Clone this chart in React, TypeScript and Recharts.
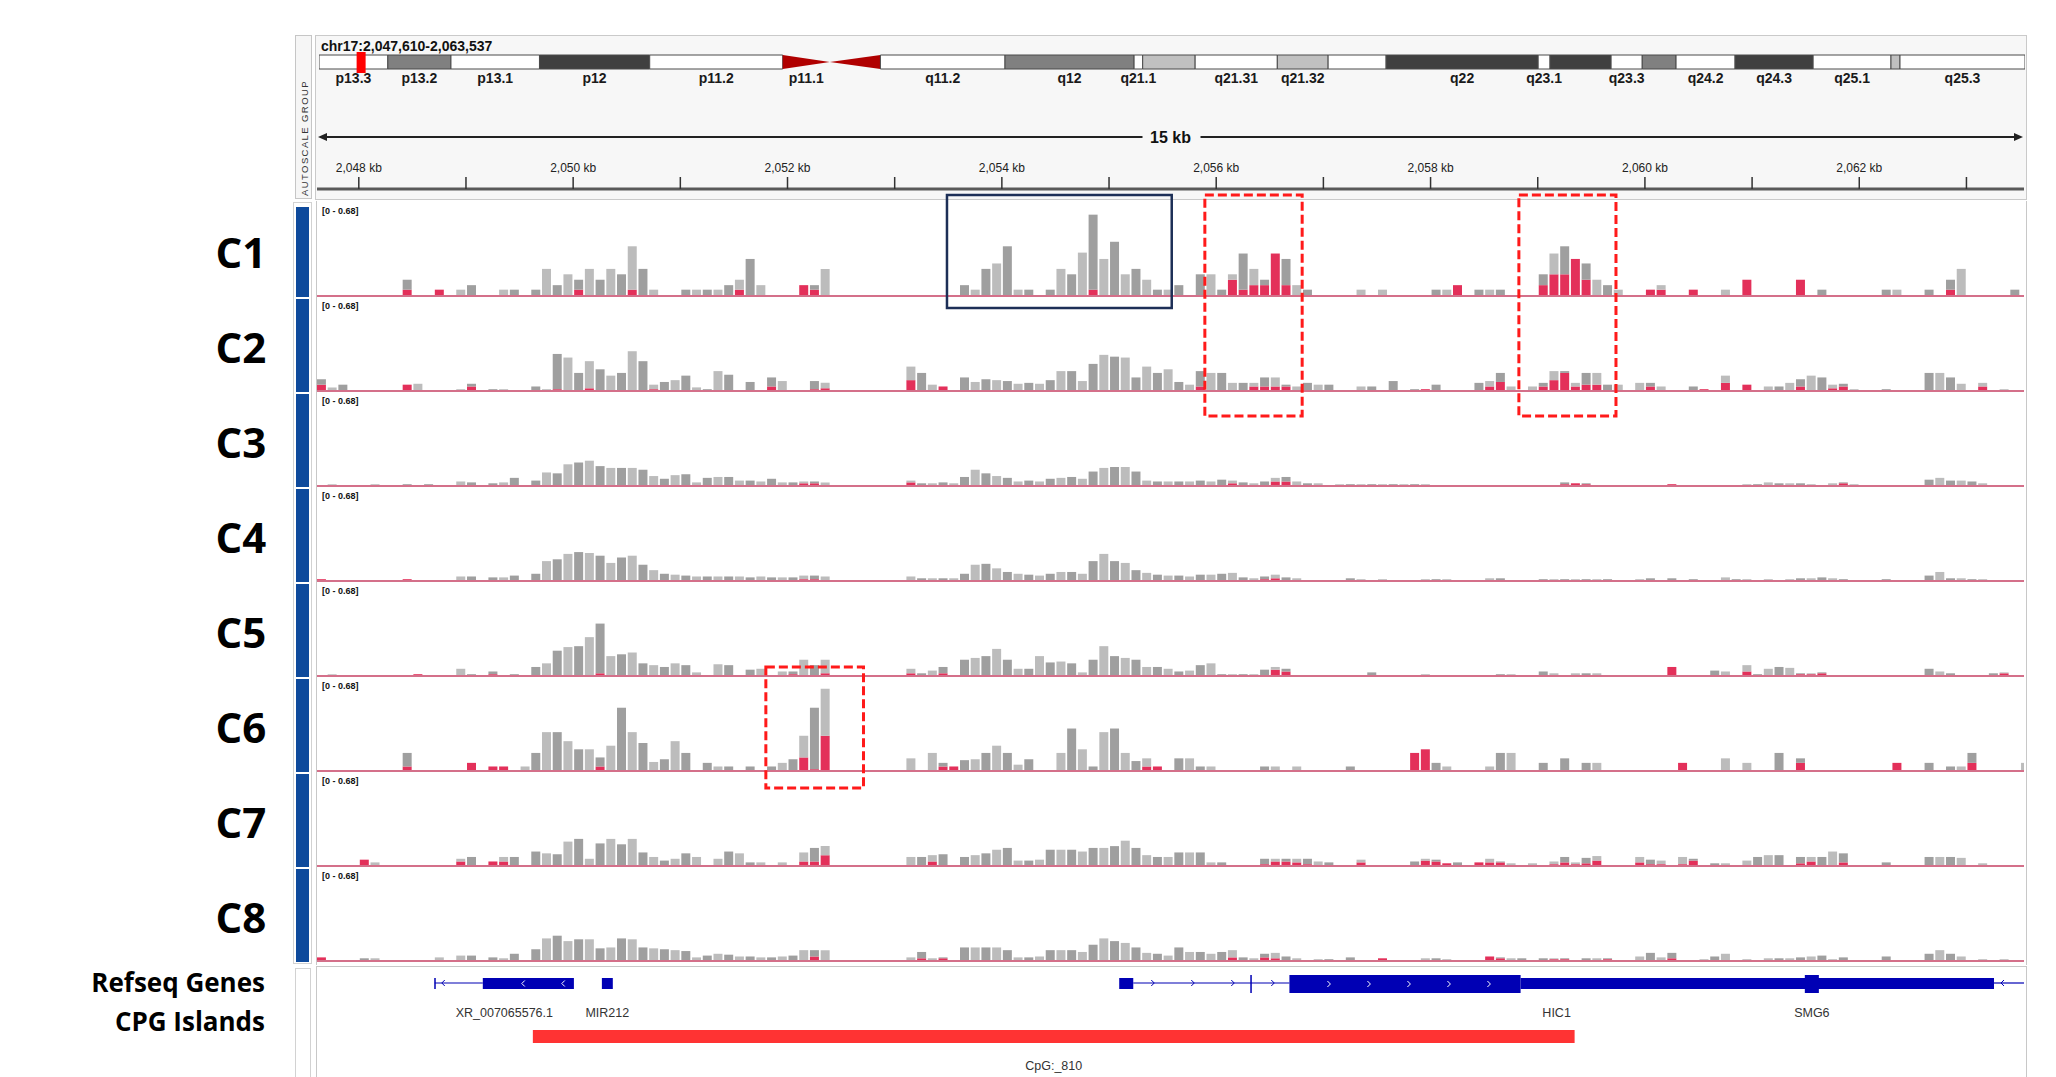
import React from "react";
import {
  BarChart,
  Bar,
  Cell,
  XAxis,
  YAxis,
  Line,
  ComposedChart,
  ReferenceLine,
  ReferenceArea,
} from "recharts";

// view window on chr17
const viewStart = 2047610;
const viewEnd = 2063537;
const locus = "chr17:2,047,610-2,063,537";
const spanLabel = "15 kb";
const rangeLabel = "[0 - 0.68]";

// coverage bins: 100 bp each starting at 2,047,600
const binStart = 2047600;
const binSize = 100;

const trackNames = ["C1", "C2", "C3", "C4", "C5", "C6", "C7", "C8"];

// bar heights, % of the track data range
const c1 = [
  0, 0, 0, 0, 0, 0, 0, 0, 18, 0, 0, 7, 0, 7, 12, 0, 0, 7, 7, 0,
  7, 30, 12, 24, 18, 30, 18, 30, 24, 55, 30, 7, 0, 0, 7, 7, 7, 7, 12, 18,
  41, 12, 0, 0, 0, 12, 12, 30, 0, 0, 0, 0, 0, 0, 0, 0, 0, 0, 0, 0,
  12, 7, 30, 36, 55, 7, 7, 0, 7, 30, 24, 48, 90, 41, 60, 24, 30, 18, 7, 7,
  12, 0, 24, 24, 7, 24, 47, 30, 18, 47, 41, 12, 7, 0, 0, 0, 0, 7, 0, 7,
  0, 0, 0, 0, 7, 7, 12, 0, 7, 7, 7, 0, 0, 0, 24, 47, 55, 41, 36, 18,
  12, 7, 0, 0, 7, 12, 0, 0, 7, 0, 0, 7, 0, 18, 0, 0, 0, 0, 18, 0,
  7, 0, 0, 0, 0, 0, 7, 7, 0, 0, 7, 0, 18, 30, 0, 0, 0, 0, 7, 0,
];
const c2 = [
  13, 4, 7, 0, 0, 0, 0, 0, 7, 8, 0, 0, 0, 2, 8, 0, 2, 2, 0, 0,
  5, 2, 41, 37, 20, 33, 24, 17, 20, 44, 33, 7, 10, 12, 17, 4, 2, 22, 18, 0,
  10, 0, 15, 11, 0, 0, 11, 9, 0, 0, 0, 0, 0, 0, 0, 27, 20, 7, 5, 0,
  15, 10, 13, 12, 11, 8, 9, 8, 12, 22, 22, 11, 30, 40, 38, 37, 15, 27, 20, 24,
  10, 7, 22, 20, 20, 9, 9, 9, 15, 15, 7, 5, 9, 7, 7, 0, 0, 5, 5, 0,
  11, 0, 2, 2, 7, 0, 0, 0, 9, 11, 20, 5, 0, 5, 9, 22, 22, 9, 20, 20,
  7, 7, 0, 9, 9, 5, 0, 0, 5, 2, 0, 17, 0, 7, 0, 5, 5, 9, 13, 17,
  15, 7, 8, 2, 0, 0, 2, 0, 0, 0, 20, 20, 15, 8, 0, 9, 0, 2, 0, 0,
];
const c3 = [
  0, 2, 0, 0, 0, 2, 0, 0, 2, 0, 2, 1, 0, 5, 4, 0, 3, 4, 9, 0,
  6, 15, 14, 24, 26, 28, 22, 20, 20, 20, 18, 11, 8, 12, 13, 4, 9, 10, 10, 6,
  6, 5, 8, 4, 4, 5, 5, 4, 0, 0, 0, 0, 0, 0, 0, 6, 3, 3, 4, 3,
  10, 18, 14, 11, 9, 5, 6, 5, 8, 9, 10, 8, 16, 20, 21, 21, 16, 6, 5, 5,
  5, 5, 6, 5, 7, 6, 4, 3, 5, 9, 10, 5, 3, 3, 0, 2, 2, 2, 2, 2,
  2, 2, 2, 2, 0, 0, 0, 0, 0, 0, 0, 0, 0, 1, 0, 0, 4, 3, 3, 0,
  0, 0, 0, 1, 0, 0, 2, 0, 1, 0, 1, 0, 0, 2, 2, 4, 3, 3, 3, 2,
  0, 3, 4, 2, 1, 0, 0, 0, 0, 0, 7, 9, 6, 6, 5, 3, 0, 0, 0, 0,
];
const c4 = [
  2, 0, 0, 0, 0, 0, 1, 0, 2, 0, 1, 0, 0, 5, 5, 0, 4, 4, 6, 0,
  8, 22, 24, 30, 32, 31, 28, 20, 26, 28, 18, 12, 8, 7, 6, 5, 5, 5, 5, 5,
  4, 5, 4, 4, 4, 6, 6, 5, 0, 0, 0, 0, 0, 0, 0, 5, 3, 3, 3, 3,
  8, 18, 19, 14, 10, 8, 7, 6, 8, 10, 10, 8, 22, 30, 22, 20, 12, 9, 7, 6,
  6, 5, 7, 7, 8, 9, 4, 3, 5, 7, 4, 3, 0, 1, 1, 0, 3, 2, 0, 2,
  0, 0, 0, 2, 2, 2, 1, 0, 0, 3, 3, 0, 0, 0, 2, 2, 2, 2, 2, 2,
  2, 1, 0, 2, 3, 0, 3, 0, 2, 0, 0, 4, 2, 2, 0, 2, 0, 2, 3, 3,
  4, 3, 2, 0, 0, 0, 2, 0, 0, 0, 6, 10, 3, 3, 2, 2, 0, 0, 0, 0,
];
const c5 = [
  0, 2, 0, 0, 0, 1, 0, 0, 0, 2, 0, 1, 0, 8, 2, 0, 5, 0, 2, 0,
  10, 14, 28, 32, 33, 43, 58, 22, 24, 26, 14, 12, 10, 14, 12, 4, 0, 13, 12, 0,
  7, 8, 0, 5, 5, 18, 12, 18, 0, 0, 0, 0, 0, 0, 0, 8, 3, 6, 10, 0,
  18, 20, 22, 30, 18, 8, 8, 22, 15, 16, 14, 4, 18, 33, 22, 20, 18, 10, 10, 8,
  5, 6, 12, 14, 2, 2, 2, 2, 7, 10, 8, 1, 1, 0, 0, 0, 0, 0, 4, 0,
  1, 1, 0, 2, 0, 0, 0, 0, 0, 0, 2, 2, 0, 0, 5, 3, 0, 3, 3, 3,
  1, 0, 0, 1, 1, 1, 10, 0, 0, 0, 6, 5, 0, 12, 2, 8, 10, 9, 3, 3,
  4, 1, 1, 1, 1, 0, 1, 0, 0, 0, 8, 5, 3, 0, 0, 0, 3, 4, 1, 0,
];
const c6 = [
  0, 0, 0, 0, 0, 0, 0, 0, 20, 0, 0, 0, 0, 0, 9, 0, 5, 5, 0, 5,
  20, 43, 43, 33, 24, 24, 15, 28, 70, 43, 31, 10, 13, 33, 20, 0, 9, 5, 5, 0,
  5, 0, 5, 9, 13, 39, 70, 91, 0, 0, 0, 0, 0, 0, 0, 14, 0, 20, 9, 5,
  12, 13, 20, 28, 20, 7, 13, 0, 0, 20, 47, 24, 5, 43, 47, 20, 11, 14, 5, 0,
  14, 14, 5, 5, 0, 0, 0, 0, 5, 5, 0, 5, 0, 0, 0, 0, 5, 0, 0, 0,
  0, 0, 20, 24, 9, 5, 0, 0, 0, 5, 20, 20, 0, 0, 9, 0, 14, 0, 9, 9,
  0, 0, 0, 0, 0, 0, 0, 9, 0, 0, 0, 14, 0, 9, 0, 0, 20, 0, 14, 0,
  0, 0, 0, 0, 0, 0, 0, 9, 0, 0, 9, 0, 5, 5, 20, 0, 0, 0, 0, 9,
];
const c7 = [
  1, 0, 1, 0, 7, 4, 0, 0, 0, 0, 0, 0, 0, 8, 10, 0, 5, 10, 10, 0,
  16, 14, 13, 27, 30, 8, 25, 30, 24, 30, 15, 10, 6, 8, 14, 10, 0, 8, 16, 14,
  4, 4, 0, 4, 0, 15, 20, 22, 0, 0, 0, 0, 0, 0, 0, 10, 10, 12, 13, 0,
  10, 12, 14, 18, 20, 6, 6, 7, 18, 18, 18, 16, 20, 20, 22, 28, 20, 12, 10, 10,
  15, 15, 15, 4, 4, 0, 0, 1, 8, 8, 8, 8, 8, 5, 4, 0, 0, 7, 0, 1,
  0, 0, 5, 8, 7, 3, 4, 0, 4, 8, 5, 3, 0, 3, 0, 5, 10, 4, 9, 11,
  0, 0, 0, 10, 7, 6, 0, 10, 8, 0, 3, 3, 0, 6, 10, 12, 12, 0, 10, 10,
  10, 16, 14, 0, 0, 0, 4, 1, 0, 0, 10, 10, 10, 9, 0, 3, 0, 0, 0, 0,
];
const c8 = [
  4, 0, 0, 0, 3, 3, 0, 0, 0, 0, 0, 4, 0, 6, 6, 0, 4, 3, 8, 0,
  13, 25, 28, 22, 24, 24, 14, 15, 25, 24, 15, 14, 13, 12, 11, 4, 6, 8, 7, 5,
  5, 4, 4, 5, 6, 12, 12, 12, 0, 0, 0, 0, 0, 0, 0, 4, 10, 3, 4, 0,
  15, 15, 15, 15, 12, 4, 4, 5, 12, 12, 12, 10, 18, 25, 22, 20, 15, 9, 8, 6,
  15, 10, 10, 8, 10, 12, 4, 3, 8, 9, 5, 3, 0, 2, 2, 0, 4, 0, 0, 3,
  0, 0, 0, 3, 3, 2, 1, 0, 0, 5, 4, 3, 3, 0, 3, 3, 3, 0, 3, 3,
  3, 0, 0, 5, 9, 4, 9, 0, 0, 2, 5, 8, 0, 2, 0, 3, 3, 3, 4, 5,
  6, 2, 4, 0, 0, 0, 5, 0, 0, 0, 8, 12, 8, 5, 0, 2, 0, 2, 0, 0,
];

// red (mismatch) part of a bin: [bin index, height]
const c1Red: [number, number][] = [
  [8, 7], [11, 7], [24, 7], [29, 7], [39, 7], [45, 12], [46, 7], [72, 7],
  [85, 18], [86, 7], [87, 12], [88, 12], [89, 47], [90, 12], [106, 12],
  [114, 12], [115, 24], [116, 24], [117, 41], [118, 18], [124, 7], [125, 7],
  [128, 7], [133, 18], [138, 18], [152, 7],
];
const c2Red: [number, number][] = [
  [0, 7], [8, 7], [14, 5], [22, 2], [25, 3], [31, 2], [42, 5], [46, 2], [47, 3],
  [55, 12], [58, 5], [82, 5], [87, 5], [88, 5], [89, 5], [90, 5], [102, 1],
  [103, 2], [109, 5], [110, 10], [114, 5], [115, 12], [116, 20], [117, 5],
  [118, 7], [119, 7], [124, 5], [129, 2], [131, 9], [133, 7], [138, 5],
  [141, 3], [142, 5], [155, 5],
];
const c3Red: [number, number][] = [
  [45, 3], [46, 3], [55, 4], [85, 3], [89, 5], [90, 5], [116, 2], [117, 3],
  [118, 2], [126, 2], [142, 3],
];
const c4Red: [number, number][] = [
  [0, 2], [8, 2], [45, 2], [46, 2], [88, 2], [89, 3], [99, 1], [115, 1],
  [119, 1], [128, 1],
];
const c5Red: [number, number][] = [
  [9, 2], [16, 2], [26, 3], [44, 2], [47, 3], [55, 3], [58, 3], [89, 7], [90, 5],
  [119, 1], [120, 1], [126, 10], [133, 5], [138, 2], [139, 2], [140, 3], [157, 3],
];
const c6Red: [number, number][] = [
  [8, 5], [14, 9], [16, 5], [17, 5], [26, 5], [45, 15], [46, 2], [47, 39],
  [58, 5], [59, 5], [77, 5], [78, 5], [102, 20], [103, 24], [127, 9], [138, 9],
  [147, 9], [154, 9],
];
const c7Red: [number, number][] = [
  [2, 1], [4, 7], [13, 5], [16, 5], [17, 5], [45, 5], [46, 5], [47, 12], [57, 5],
  [88, 2], [89, 5], [90, 5], [91, 4], [92, 2], [97, 4], [103, 6], [104, 5],
  [105, 3], [108, 4], [109, 4], [110, 4], [115, 2], [116, 4], [117, 2], [118, 3],
  [119, 6], [123, 4], [124, 2], [125, 2], [127, 2], [128, 6], [138, 3], [139, 5],
  [142, 4],
];
const c8Red: [number, number][] = [
  [0, 4], [5, 1], [46, 5], [56, 3], [58, 3], [85, 4], [88, 4], [89, 3], [99, 3],
  [109, 5], [110, 3], [115, 2], [116, 2], [120, 2], [126, 3],
];

const coverage = [c1, c2, c3, c4, c5, c6, c7, c8];
const mismatch = [c1Red, c2Red, c3Red, c4Red, c5Red, c6Red, c7Red, c8Red];

// chr17 cytobands (Mb)
const chrLength = 83.26;
const bandNames = [
  "p13.3", "p13.2", "p13.1", "p12", "p11.2", "p11.1", "q11.1", "q11.2", "q12",
  "q21.1", "q21.2", "q21.31", "q21.32", "q21.33", "q22", "q23.1", "q23.2",
  "q23.3", "q24.1", "q24.2", "q24.3", "q25.1", "q25.2", "q25.3",
];
const bandStarts = [
  0, 3.36, 6.44, 10.76, 16.14, 22.63, 24.93, 27.4, 33.48, 39.78, 40.2, 42.76,
  46.77, 49.25, 52.08, 59.5, 60.08, 63.06, 64.58, 66.23, 69.11, 72.92, 76.72, 77.16,
];
const bandEnds = [
  3.36, 6.44, 10.76, 16.14, 22.63, 24.93, 27.4, 33.48, 39.78, 40.2, 42.76, 46.77,
  49.25, 52.08, 59.5, 60.08, 63.06, 64.58, 66.23, 69.11, 72.92, 76.72, 77.16, 83.26,
];
const bandStains = [
  "gneg", "gpos50", "gneg", "gpos75", "gneg", "acen", "acen", "gneg", "gpos50",
  "gneg", "gpos25", "gneg", "gpos25", "gneg", "gpos75", "gneg", "gpos75",
  "gneg", "gpos50", "gneg", "gpos75", "gneg", "gpos25", "gneg",
];
const unlabeledBands = ["q11.1", "q21.2", "q21.33", "q23.2", "q24.1", "q25.2"];

const rulerTicks = [
  2048000, 2049000, 2050000, 2051000, 2052000, 2053000, 2054000, 2055000,
  2056000, 2057000, 2058000, 2059000, 2060000, 2061000, 2062000, 2063000,
];

// RefSeq genes
const geneNames = ["XR_007065576.1", "MIR212", "HIC1", "SMG6"];
const geneStarts = [2048709, 2050268, 2055095, 2061492];
const geneEnds = [2050007, 2050370, 2063257, 2061623];
const intronStarts = [2048709, 2055226, 2063257];
const intronEnds = [2049157, 2056683, 2063537];
const intronStrands = ["-", "+", "-"];
const exonStarts = [2048704, 2049157, 2050268, 2055095, 2056318, 2056683, 2058840, 2061492];
const exonEnds = [2048714, 2050007, 2050370, 2055226, 2056330, 2058840, 2063257, 2061623];
const exonKinds = ["exon", "exon", "exon", "exon", "cds", "cds", "utr", "cds"];
const exonStrands = ["-", "-", "-", "+", "+", "+", "+", "-"];

// CpG islands
const cpgNames = ["CpG:_810"];
const cpgStarts = [2049624];
const cpgEnds = [2059344];

// highlighted regions: genomic span + vertical extent on the page
const boxStarts = [2053488, 2055894, 2058824, 2051798];
const boxEnds = [2055585, 2056802, 2059730, 2052709];
const boxTops = [195, 195, 195, 667];
const boxBottoms = [308, 416, 416, 788];
const boxDashed = [false, true, true, true];

const FONT_UI = "'Liberation Sans', Arial, sans-serif";
const FONT_LABEL = "'Open Sans', 'Liberation Sans', sans-serif";
const GENE_BLUE = "#0000b4";
const RED_BAR = "#e3305a";

const plotLeft = 317;
const plotWidth = 1707;
const trackTop0 = 202;
const trackHeight = 95;

const xOf = (pos: number) =>
  plotLeft + ((pos - viewStart) / (viewEnd - viewStart)) * plotWidth;

const stainFill: Record<string, string> = {
  gneg: "#ffffff",
  gpos25: "#c0c0c0",
  gpos50: "#808080",
  gpos75: "#404040",
  acen: "#b00000",
};

function buildRows(values: number[], red: [number, number][]) {
  const redMap = new Map(red);
  return values.map((v, i) => {
    const r = Math.min(v, redMap.get(i) ?? 0);
    return { pos: binStart + binSize * i + binSize / 2, red: r, rest: v - r };
  });
}

function Track({ index }: { index: number }) {
  const rows = buildRows(coverage[index], mismatch[index]);
  const top = trackTop0 + trackHeight * index;
  return (
    <div style={{ position: "absolute", left: plotLeft, top, width: plotWidth, height: trackHeight }}>
      <BarChart
        width={plotWidth}
        height={trackHeight}
        data={rows}
        margin={{ top: 0, right: 0, bottom: 1, left: 0 }}
        barCategoryGap={1}
      >
        <XAxis type="number" dataKey="pos" domain={[viewStart, viewEnd]} allowDataOverflow hide />
        <YAxis type="number" domain={[0, 104]} allowDataOverflow hide />
        <Bar dataKey="red" stackId="m" fill={RED_BAR} isAnimationActive={false} />
        <Bar dataKey="rest" stackId="m" isAnimationActive={false}>
          {rows.map((_, i) => (
            <Cell key={i} fill={i % 2 ? "#bcbcbc" : "#9f9f9f"} />
          ))}
        </Bar>
        <ReferenceLine y={0} stroke="#d4708a" strokeWidth={2} />
      </BarChart>
      <div
        style={{
          position: "absolute",
          left: 5,
          top: 5,
          fontSize: 9,
          fontWeight: 700,
          fontFamily: FONT_UI,
          color: "#111",
          lineHeight: 1,
        }}
      >
        {rangeLabel}
      </div>
    </div>
  );
}

const bandLabel = (name: string) => (p: any) => {
  const vb = p.viewBox ?? p;
  return (
    <text
      x={vb.x + vb.width / 2}
      y={vb.y + vb.height + 14}
      textAnchor="middle"
      fontSize={14}
      fontWeight={700}
      fontFamily={FONT_UI}
      fill="#1a1a1a"
    >
      {name}
    </text>
  );
};

const centromere = (side: string) => (p: any) => {
  const { x, y, width, height } = p;
  const pts =
    side === "p"
      ? `${x},${y} ${x},${y + height} ${x + width},${y + height / 2}`
      : `${x + width},${y} ${x + width},${y + height} ${x},${y + height / 2}`;
  return <polygon points={pts} fill={stainFill.acen} />;
};

const viewMarker = (p: any) => (
  <rect x={p.x + p.width / 2 - 4.5} y={p.y - 3} width={9} height={p.height + 7} fill="#ff0000" />
);

function Ideogram() {
  const rows = [{ mb: 0, y: 0 }, { mb: chrLength, y: 0 }];
  return (
    <div style={{ position: "absolute", left: 319, top: 50 }}>
      <ComposedChart width={1706} height={50} data={rows} margin={{ top: 5, right: 0, bottom: 31, left: 0 }}>
        <XAxis type="number" dataKey="mb" domain={[0, chrLength]} allowDataOverflow hide />
        <YAxis type="number" domain={[0, 1]} allowDataOverflow hide />
        <Line dataKey="y" stroke="none" dot={false} isAnimationActive={false} />
        {bandNames.map((name, i) => (
          <ReferenceArea
            key={name}
            x1={bandStarts[i]}
            x2={bandEnds[i]}
            y1={0}
            y2={1}
            fill={stainFill[bandStains[i]]}
            fillOpacity={1}
            stroke="#4a4a4a"
            strokeWidth={1}
            ifOverflow="visible"
            shape={bandStains[i] === "acen" ? centromere(name[0]) : undefined}
            label={unlabeledBands.includes(name) ? undefined : { content: bandLabel(name) }}
          />
        ))}
        <ReferenceArea
          x1={viewStart / 1e6}
          x2={viewEnd / 1e6}
          y1={0}
          y2={1}
          ifOverflow="visible"
          shape={viewMarker}
        />
      </ComposedChart>
    </div>
  );
}

function Ruler() {
  const rows = rulerTicks.map((pos) => ({ pos, y: 0 }));
  return (
    <div style={{ position: "absolute", left: plotLeft, top: 100 }}>
      <ComposedChart width={plotWidth} height={100} data={rows} margin={{ top: 59, right: 0, bottom: 0, left: 0 }}>
        <XAxis
          type="number"
          dataKey="pos"
          orientation="top"
          domain={[viewStart, viewEnd]}
          allowDataOverflow
          ticks={rulerTicks}
          interval={0}
          height={30}
          tickSize={12}
          tickMargin={5}
          tickFormatter={(v: number) =>
            v % 2000 === 0 ? `${(v / 1000).toLocaleString("en-US")} kb` : ""
          }
          tick={{ fontSize: 12, fill: "#222", fontFamily: FONT_UI }}
          tickLine={{ stroke: "#333", strokeWidth: 1.5 }}
          axisLine={{ stroke: "#5a5a5a", strokeWidth: 3 }}
        />
        <YAxis type="number" domain={[0, 1]} allowDataOverflow hide />
        <Line dataKey="y" stroke="none" dot={false} isAnimationActive={false} />
      </ComposedChart>
    </div>
  );
}

const chevrons = (x0: number, x1: number, cy: number, strand: string, color: string, first: number) => {
  const out: React.ReactElement[] = [];
  for (let cx = x0 + first; cx < x1 - 8; cx += 40) {
    const d = strand === "+" ? 1 : -1;
    out.push(
      <polyline
        key={cx}
        points={`${cx - 2 * d},${cy - 3} ${cx + 1 * d},${cy} ${cx - 2 * d},${cy + 3}`}
        fill="none"
        stroke={color}
        strokeWidth={1}
      />
    );
  }
  return out;
};

const intronShape = (strand: string) => (p: any) => {
  const cy = p.y + p.height / 2;
  return (
    <g>
      <line x1={p.x} x2={p.x + p.width} y1={cy} y2={cy} stroke={GENE_BLUE} strokeWidth={1.2} />
      {chevrons(p.x, p.x + p.width, cy, strand, GENE_BLUE, strand === "-" && p.width < 60 ? 8 : 20)}
    </g>
  );
};

const exonShape = (kind: string, strand: string) => (p: any) => {
  const cy = p.y + p.height / 2;
  return (
    <g>
      <rect x={p.x} y={p.y} width={Math.max(p.width, 1.5)} height={p.height} fill={GENE_BLUE} />
      {kind !== "utr" && p.width > 60 ? chevrons(p.x, p.x + p.width, cy, strand, "#ffffff", 40) : null}
    </g>
  );
};

const featureLabel = (name: string, dy: number) => (p: any) => {
  const vb = p.viewBox ?? p;
  return (
    <text
      x={vb.x + vb.width / 2}
      y={dy}
      textAnchor="middle"
      fontSize={12.5}
      fontFamily={FONT_UI}
      fill="#333"
    >
      {name}
    </text>
  );
};

function GeneTrack() {
  const rows = [{ pos: viewStart, y: 0 }, { pos: viewEnd, y: 0 }];
  return (
    <div style={{ position: "absolute", left: plotLeft, top: 967 }}>
      <ComposedChart width={plotWidth} height={110} data={rows} margin={{ top: 0, right: 0, bottom: 0, left: 0 }}>
        <XAxis type="number" dataKey="pos" domain={[viewStart, viewEnd]} allowDataOverflow hide />
        <YAxis type="number" domain={[0, 110]} reversed allowDataOverflow hide />
        <Line dataKey="y" stroke="none" dot={false} isAnimationActive={false} />
        {intronStarts.map((s, i) => (
          <ReferenceArea
            key={`in${i}`}
            x1={s}
            x2={intronEnds[i]}
            y1={15.5}
            y2={16.5}
            ifOverflow="hidden"
            shape={intronShape(intronStrands[i])}
          />
        ))}
        {exonStarts.map((s, i) => (
          <ReferenceArea
            key={`ex${i}`}
            x1={s}
            x2={exonEnds[i]}
            y1={exonKinds[i] === "cds" ? 8 : 11}
            y2={exonKinds[i] === "cds" ? 26 : 22}
            ifOverflow="hidden"
            shape={exonShape(exonKinds[i], exonStrands[i])}
          />
        ))}
        {geneNames.map((name, i) => (
          <ReferenceArea
            key={`gl${i}`}
            x1={geneStarts[i]}
            x2={geneEnds[i]}
            y1={40}
            y2={41}
            fillOpacity={0}
            strokeOpacity={0}
            label={{ content: featureLabel(name, 50) }}
          />
        ))}
        {cpgNames.map((name, i) => (
          <ReferenceArea
            key={`cpg${i}`}
            x1={cpgStarts[i]}
            x2={cpgEnds[i]}
            y1={63}
            y2={76}
            fill="#ff3333"
            fillOpacity={1}
            label={{ content: featureLabel(name, 103) }}
          />
        ))}
      </ComposedChart>
    </div>
  );
}

function Overlay() {
  const x0 = xOf(viewStart) + 1;
  const x1 = xOf(viewEnd) - 1;
  const mid = (x0 + x1) / 2;
  const y = 137;
  return (
    <svg
      width={2056}
      height={1077}
      style={{ position: "absolute", left: 0, top: 0, pointerEvents: "none" }}
    >
      <line x1={x0 + 6} x2={mid - 28} y1={y} y2={y} stroke="#222" strokeWidth={2} />
      <line x1={mid + 30} x2={x1 - 6} y1={y} y2={y} stroke="#222" strokeWidth={2} />
      <polygon points={`${x0},${y} ${x0 + 9},${y - 4} ${x0 + 9},${y + 4}`} fill="#222" />
      <polygon points={`${x1},${y} ${x1 - 9},${y - 4} ${x1 - 9},${y + 4}`} fill="#222" />
      <text
        x={mid}
        y={y + 6}
        textAnchor="middle"
        fontSize={16}
        fontWeight={700}
        fontFamily={FONT_UI}
        fill="#111"
      >
        {spanLabel}
      </text>
      {boxStarts.map((s, i) => (
        <rect
          key={i}
          x={xOf(s)}
          y={boxTops[i]}
          width={xOf(boxEnds[i]) - xOf(s)}
          height={boxBottoms[i] - boxTops[i]}
          fill="none"
          stroke={boxDashed[i] ? "#ff1a1a" : "#1d2f57"}
          strokeWidth={boxDashed[i] ? 3 : 2.5}
          strokeDasharray={boxDashed[i] ? "9 4" : undefined}
        />
      ))}
    </svg>
  );
}

export default function App() {
  return (
    <div
      style={{
        position: "absolute",
        left: 0,
        top: 0,
        width: 2056,
        height: 1077,
        background: "#ffffff",
        overflow: "hidden",
      }}
    >
      {/* header panel */}
      <div style={{ position: "absolute", left: 295, top: 35, width: 17, height: 164, border: "1px solid #c6c6c6", background: "#f6f6f6", boxSizing: "border-box" }} />
      <div style={{ position: "absolute", left: 315, top: 35, width: 1712, height: 165, border: "1px solid #cacaca", background: "#f7f7f7", boxSizing: "border-box" }} />
      <div
        style={{
          position: "absolute",
          left: 303.5,
          top: 138,
          transform: "translate(-50%, -50%) rotate(-90deg)",
          whiteSpace: "nowrap",
          fontSize: 9.5,
          letterSpacing: 1.4,
          fontFamily: FONT_UI,
          color: "#333",
        }}
      >
        AUTOSCALE GROUP
      </div>
      <div
        style={{
          position: "absolute",
          left: 321,
          top: 39,
          fontSize: 14,
          fontWeight: 700,
          fontFamily: FONT_UI,
          color: "#111",
          lineHeight: "14px",
        }}
      >
        {locus}
      </div>
      <Ideogram />
      <Ruler />

      {/* name panel frames */}
      <div style={{ position: "absolute", left: 293, top: 202, width: 19, height: 762, border: "1px solid #d2d2d2", boxSizing: "border-box" }} />
      <div style={{ position: "absolute", left: 295, top: 968, width: 16, height: 120, border: "1px solid #d2d2d2", boxSizing: "border-box" }} />
      <div style={{ position: "absolute", left: 316, top: 201, width: 1711, height: 764, borderLeft: "1px solid #c8c8c8", borderRight: "1px solid #c8c8c8", boxSizing: "border-box" }} />
      <div style={{ position: "absolute", left: 316, top: 966, width: 1711, height: 120, border: "1px solid #c8c8c8", boxSizing: "border-box" }} />

      {trackNames.map((name, i) => {
        const top = trackTop0 + trackHeight * i;
        return (
          <React.Fragment key={name}>
            <div
              style={{
                position: "absolute",
                left: 296,
                top: top + (i === 0 ? 5 : 1.5),
                width: 13,
                height: i === 0 ? 89.5 : 93,
                background: "#0e4a9c",
              }}
            />
            <div
              style={{
                position: "absolute",
                left: 181,
                width: 120,
                top: top + 29,
                height: 42,
                lineHeight: "42px",
                textAlign: "center",
                fontSize: 42,
                fontWeight: 700,
                fontFamily: FONT_LABEL,
                color: "#000",
              }}
            >
              {name}
            </div>
          </React.Fragment>
        );
      })}

      {trackNames.map((name, i) => (
        <Track key={name} index={i} />
      ))}

      <GeneTrack />

      <div style={{ position: "absolute", left: 0, width: 265, top: 969, lineHeight: "26px", textAlign: "right", fontSize: 26, fontWeight: 700, fontFamily: FONT_LABEL, color: "#000" }}>
        Refseq Genes
      </div>
      <div style={{ position: "absolute", left: 0, width: 265, top: 1008, lineHeight: "26px", textAlign: "right", fontSize: 26, fontWeight: 700, fontFamily: FONT_LABEL, color: "#000" }}>
        CPG Islands
      </div>

      <Overlay />
    </div>
  );
}
